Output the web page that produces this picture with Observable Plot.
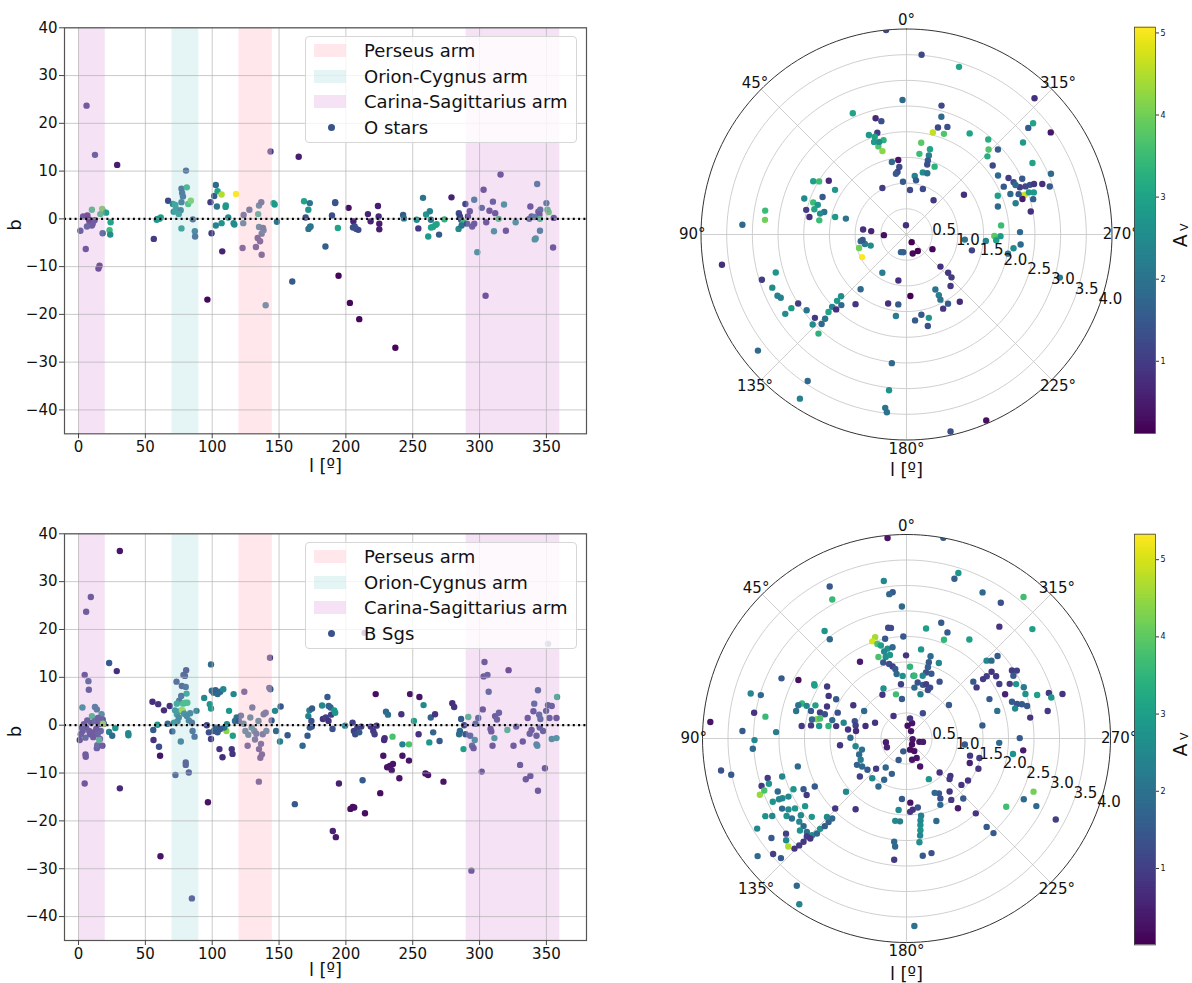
<!DOCTYPE html>
<html><head><meta charset="utf-8">
<script src="https://cdn.jsdelivr.net/npm/d3@7"></script>
<script src="https://cdn.jsdelivr.net/npm/@observablehq/plot@0.6"></script>
<style>
body{margin:0;background:#fff;font-family:"DejaVu Sans",sans-serif;}
#root{position:relative;width:1192px;height:983px;overflow:hidden;background:#fff;}
.panel{position:absolute;}
.panel svg{overflow:visible;max-width:none;}
.legend{position:absolute;border:1px solid #d6d6d6;border-radius:4px;background:rgba(255,255,255,0.8);font-family:"DejaVu Sans",sans-serif;font-size:18px;color:#111;box-sizing:border-box;}
.legend .row{position:absolute;left:0;height:0;}
.legend .sw{position:absolute;left:8px;top:-7px;width:32px;height:13px;}
.legend .dot{position:absolute;left:22px;top:-3.5px;width:7px;height:7px;border-radius:50%;background:#3b528b;}
.legend .tx{position:absolute;left:58px;top:-12px;white-space:nowrap;line-height:24px;}
</style></head>
<body><div id="root"></div>
<script>
// ---------- tick labels / categories ----------
const lTicks = [0,50,100,150,200,250,300,350];
const bTicks = [-40,-30,-20,-10,0,10,20,30,40];
const ringTicks = [0.5,1,1.5,2,2.5,3,3.5,4];
const angleTicks = [0,45,90,135,180,225,270,315];
const avTicks = [1,2,3,4,5];
const armNames = ["Perseus arm","Orion-Cygnus arm","Carina-Sagittarius arm"];
const armRanges = [[[120,145]],[[70,90]],[[0,20],[290,360]]];
const seriesNames = ["O stars","B Sgs"];
const avDomainO = [0.12,5.07];
const avDomainB = [0.01,5.33];

// ---------- O stars: [l, b, Av] ----------
const oStarsLB = [
[6,23.7,1],[12.3,13.4,1.2],[28.9,11.3,0.5],[1.4,-2.5,1.2],[5.4,-6.3,1],[14.9,-10.4,0.8],[15.7,-9.8,0.8],[18,-3,1.5],
[3.4,0.5,1],[6.6,0.7,0.8],[8.3,-0.7,1],[10.6,-1.0,1.2],[10,-1.4,1],[6.3,-1.6,1.3],[7.7,-0.1,0.6],[12,-0.3,1],[10,1.9,3.5],[17.7,2.1,4],[18.6,1.6,4],[16.3,1.0,3.5],[20.6,1.3,3],[24,-0.7,3],[23.2,-2.4,3.5],[23.7,-3.3,2.5],
[56.3,-4.2,1],[67,3.8,1.2],[59,0,2.8],[60.5,0,2.8],[61.5,0.3,2.9],[58.5,-0.2,2.7],
[71.2,1.5,2.5],[70.6,3.1,2.5],[72.4,2.9,2.7],[72.9,2.1,2.6],[77,6.3,1.5],[77.5,5.4,1.6],[78.1,4.7,1.7],[77,3.5,1.8],[76.4,1.8,2],[75,1.0,2.6],[77,-2,2.7],[81,6.6,3.2],[80.4,10.1,1.5],[82,3.1,3.5],[84,3.8,4],[85.5,-0.1,1.5],[87,-2.6,2],[87.2,-3.7,1.5],
[96.4,-16.9,0.2],[98.7,3.5,1],[99.5,-3,1],[101.5,4.8,1.5],[102.7,7.1,1.8],[104,5.8,3],[107,5.1,4.5],[103.5,2.6,2],[102.7,-1.4,2.3],[107,-0.9,2.7],[107.5,-6.8,0.6],[110,2.5,2.8],[110.2,2.8,2.8],[112,0.3,2.5],[116,-0.9,2.5],[116.6,-1.2,2.5],[117.8,5.2,5.1],
[122.7,-6.1,1],[123.5,0.8,1.5],[123.2,-0.9,2],[127.8,1.9,1.5],[132.7,-5.9,1],[134,-4.0,1],[135.8,-4.7,1],[137,-3.1,1.5],[137,-7.5,1],[135,2.8,2],[136.7,3.5,1.5],[138.4,-2.4,2],[135,-1.7,2],[134.4,1.0,3],[138,-1.9,1.5],[140,-18.1,2],[143.6,14.1,1],
[145.8,3.3,2.8],[146.7,3.0,2.8],[148.4,-0.6,2],[159.9,-13.1,1.5],[164.7,13,0.5],[168.7,3.7,3],[173,3.3,2],[171.9,1.9,2.7],[169.9,0.3,1.3],[172,-2.1,2],[173.1,-1.7,2],[173.6,-1.6,2],[184.7,-5.8,1.6],[189.6,0.7,1.3],[192,3.3,1.3],[192,3.5,1.4],[194,-1.9,3],[194.5,-11.9,0.2],
[202,2.3,0.3],[205.6,-0.5,0.6],[205.3,-1.8,1.3],[207.8,-2.1,1.4],[209.3,-2.3,1.2],[206.6,-1.6,1.3],[203,-17.6,0.2],[210,-21,0.2],[216.5,1.0,0.6],[218.5,-0.5,0.6],[224,2.7,0.5],[224.5,0.5,0.7],[225,-1,0.5],[225,-2.2,0.5],[237,-27,0.2],
[242.8,0.8,1.5],[243.4,0.1,2],[254.2,-2,0.9],[253,-0.2,2.5],[257.7,4.4,2],[260,0.9,2.7],[262.8,1.6,2.3],[261.6,-3.7,2.8],[263.7,-1.8,3],[265.1,-1.7,3],[267,-1.3,3],[267.9,-1.1,3],[269.7,-3.3,1.5],[273.7,-0.1,3.3],[263.6,-0.2,2],[279,4.5,0.6],
[284.5,1.2,1.2],[285.3,0.5,1],[286.2,-0.2,1.5],[284.3,-2.1,2.5],[288,-0.7,3.5],[286.6,-1.4,2],[289.4,3.1,1.2],[291.3,0.5,1],[290.7,-1.0,1.3],[292.7,1.6,1],[296,4,2],[294.5,-1.6,1.2],[296,-1.0,1],[298.3,-7,2.5],
[301.7,2.3,1.5],[303,6.1,1],[304.5,-16.1,0.8],[305,-0.7,1],[307.4,1.7,1],[310,3.6,1.2],[310.8,-2.6,2.5],[311.7,1.2,1],[315.7,9.3,1],[314.3,0,3.5],[318.3,3,2.5],[319.7,-2.5,1],[327,-0.7,2.5],
[338,2.6,1],[338.9,0.5,1.2],[342,-4.1,2.5],[341.3,-4.3,2.5],[343.1,7.3,1.8],[344,1.5,1.2],[345.4,1.9,1.5],[344.8,0.9,1],[345.2,-2.5,2],[350,3.3,1.8],[351.7,1.4,3.8],[350.8,1.9,3.5],[355,-6,1],[355.5,0.2,1],[337.2,0,1.5],[341,0.4,1.8],[345.2,0,3.3]
];

// ---------- O stars: [l, distance kpc, Av] ----------
const oStarsLD = [
[5.7,4.0,1.2],[355.2,3.51,1.2],[342.6,3.42,3],[1.7,2.62,1.8],[344.8,2.6,1.2],[343.5,2.39,1.8],[343.6,2.17,1.2],[339.2,2.24,1.3],[345.5,2.05,4.6],[339.6,2.09,3.7],[328,2.32,3],[319.3,2.44,3.2],[316,2.3,3.7],[314,2.19,3.2],[312.9,2.43,1.5],[308.7,2.15,1.2],[316.8,3.64,0.8],[305.3,3.44,0.4],[311.3,3.28,3],[311.2,3.15,1.5],[308.3,2.89,2.8],[299.6,2.82,3],[292.8,3.05,1.8],
[302.8,2.12,1.8],[299,2.27,1],[296.2,2.11,1.5],[296,2.32,1.3],[295.7,2.5,1.5],[292.6,2.39,1],[291.9,2.59,1.3],[291.6,2.67,0.9],[290.4,2.82,0.8],[288.5,2.94,1.5],[291.3,2.17,1.8],[286,2.21,2.2],[288.6,2.43,4.7],[287,2.36,0.5],[285.6,2.56,1.6],[288.3,2.61,2.8],[280.5,2.46,0.8],[294.4,2.33,1.8],[292,2.5,1.2],[289,2.52,2.8],[289.8,2.32,1.5],[293,1.93,2.9],[287,1.86,1.8],[275.5,1.85,3.5],[269,1.71,3.8],[269,1.83,2.8],[266.4,1.75,2.9],[271.2,2.21,1.8],[265,2.23,1.8],[262.7,2.1,2.5],[259.3,2.01,2],[265.4,1.55,2.3],[256.4,1.31,1.1],[265,1.14,2],[304.7,1.36,0.8],[254.3,3.1,2.2],
[350.9,1.81,3.8],[350.9,1.59,3.5],[344.6,1.72,3],[344.2,1.6,2.2],[343.9,1.5,1.5],[343.5,1.42,1.3],[337.5,1.43,3.3],[345.3,1.25,2.5],[341.3,1.26,2],[352,1.15,2.3],[350,1.07,1.5],[355.5,0.87,1.2],[340.2,0.94,1.2],[321.7,0.85,0.9],[3.2,0.18,0.8],
[6.3,1.46,0.4],[11.4,1.44,1.8],[6.1,1.32,1.3],[8.2,1.23,1.2],[9.9,1.2,1.5],[3.8,1.03,1.5],[27.4,1.02,1],
[14.9,2.34,0.7],[12.5,2.26,1.3],[16,2.06,1],[20.7,2.07,2.8],[18,2.0,3],[13.7,1.89,3.3],[19.3,1.91,2.8],[17.7,1.8,3.7],[16.1,1.69,4.2],[16.5,1.88,2.5],[23.9,2.58,3],
[60.3,2.09,2.9],[58.7,1.99,3.5],[55.3,1.84,0.7],[58,1.64,2.7],[65.9,1.79,1.5],[70.6,2.11,2.5],[71,1.92,3.5],[71.5,1.82,2.7],[74.7,1.86,3],[74.7,1.66,2],[76.4,1.73,2.5],[76.2,2.01,1],[79.8,1.92,0.8],[80.8,1.72,3.5],[76.2,1.43,2.8],[75.3,1.22,2],[80.4,2.79,3.5],[84.1,2.77,4],[86.6,3.2,1.8],[99.3,3.64,0.8],
[83.4,0.85,0.8],[84.5,0.69,0.6],[91.7,0.44,0.3],[98.3,0.9,1.8],[102.8,0.83,2.2],[107.2,0.73,2.5],[105.8,0.96,4],[117,0.97,5.1],[97,0.86,1.5],
[106.2,2.65,2.7],[107.4,2.95,1],[111.6,2.81,2.5],[115.4,2.78,2.3],[116.7,2.74,2.3],[122.5,2.5,1],[122.6,2.66,2.8],[123.2,2.82,2.5],[127.2,2.44,2],[132.3,2.41,0.9],[133.8,2.53,2.5],[138.4,2.58,3.3],
[133.3,1.75,2.5],[133.7,1.87,2.8],[134.2,2.02,2.3],[134.8,2.14,3],[136,2.28,2],[136.5,2.4,1.8],[136.8,2.0,0.8],[137.3,1.87,1.8],[143.8,1.68,0.9],[128,3.67,1.8],[146,3.44,1.8],[147,3.81,2.3],
[140,1.39,1.8],[147.7,0.88,2.2],[170,0.91,0.8],[162.7,0.36,1.7],[169.6,0.35,1.6],[198,0.39,0.2],[214.4,0.39,0.1],[214,0.18,0.1],[240.6,0.58,0.2],[183.6,1.2,0.1],[165.1,1.39,0.8],[173.3,1.37,1.5],[172.6,1.6,2.2],[185.7,1.68,1.5],[190.5,1.59,1.5],[193.1,1.83,1.3],[195,1.68,2.7],[173.5,2.52,1.8],[173.6,3.05,2.6],[173,3.4,2],[173.7,3.48,2],[203.2,3.94,0.3],[192.6,3.93,1.3],
[226.6,0.91,0.8],[227.5,1.1,0.9],[226.4,1.21,1],[220.5,1.32,0.9],[207.7,1.21,2],[208,1.34,2.2],[207.5,1.43,2],[211,1.57,1.5],[206.3,1.61,0.9],[218.4,1.67,0.7]
];

// ---------- B supergiants: [l, b, Av] ----------
const bSgsLB = [
[30.9,36.4,0.3],[9.2,26.8,1],[5.7,23.7,1],[22.9,13,1.5],[28.6,11.3,0.7],[4.6,10.5,1],[7.4,9.2,1.5],[7.7,7.4,1.2],[2.9,3.7,2.5],[12.3,3.8,2],[13.7,3.3,2],[17.2,2.3,2.5],[10,1.9,3.5],[0.9,-3.1,1],[1.7,-1.9,1.2],
[3.1,-1.2,1],[5.7,-0.5,1],[8,-1.2,1.2],[8.6,-1.9,1],[10.9,-1.5,1],[5.2,-2.6,1.5],[9.5,0.5,1],[12.3,0.9,1.5],[15.2,0.2,1],[16.6,-1.2,1.3],[18.9,0.3,1.5],[18,1.2,1.2],[13.2,-0.8,1],[14.3,-1.9,1.3],[16,-2.9,1.2],[4,0.2,1],[6.5,1.0,1.2],[11,-2.5,1],[14.5,1.5,1.2],[2.5,-0.5,1.2],
[5.2,-6.1,1],[5.4,-6.6,1],[13.7,-4.8,1.2],[14,-4.2,1.5],[17.8,-4.3,1],[4.6,-12.2,0.9],[15.5,-3.1,3.5],[18.3,0.3,4.3],[22.9,-1.4,2.5],[25.2,-2.2,1.8],[27.5,-0.6,2.8],[30.9,-13.2,0.6],[37.2,-1.7,2.5],[37.3,-2.1,2.5],
[55.3,4.9,0.7],[55.9,-1,1.5],[56.1,-3.1,0.8],[59.6,4.4,0.8],[59,0.1,2.8],[60.2,-4.5,1.3],[61,-6.4,0.3],[61.3,-27.4,0.3],[63.9,3.1,0.7],[68.2,4,0.8],[66.7,0.3,1.8],[70.2,-1.3,1.5],
[73.3,9.1,1.2],[72.5,-10.4,1.2],[77.3,8.2,1.2],[79.6,10.3,1],[78.5,10.5,1.2],[80.5,11.5,1],[80.2,8,1.5],[80.8,6.6,3],[75.3,5.1,1.5],[76.8,6.1,1.5],[78.2,4.5,3.5],[79.6,4.7,3.5],[81.4,4.7,3.5],[72.2,3.1,2.5],[73.6,2.3,2.5],[75,1.6,2],[76.4,3,2.5],[77.8,3,2.5],[77.3,3.2,4.5],[79,2.4,2.2],[81,1.9,2],[82.5,1.0,2],[84.8,0.5,1.5],[85.3,-1.2,1.5],[86.8,-2.4,1.5],[88.2,3,2],[80.2,-8.3,1],[80.2,-7.8,1],[82.5,-9.9,1],[84.8,-36.2,1],[76.5,-3.4,2],[74,0.8,2],[71.5,0.5,2.5],[83.5,2.5,2],[73.5,4.5,3],
[94,5.7,2.5],[96.8,-16.1,0.3],[99.1,12.7,1.8],[98.2,4.4,2.8],[99.1,3.5,2.8],[99.7,7.2,1.8],[101.1,6.8,1.8],[102.5,7.3,1.6],[104,6.5,1.8],[106,7,1.8],[108.3,7.5,2.5],[99.1,-2.9,1],[101.1,-1.2,1.5],[102.5,-0.5,1.7],[104,-1.5,1.5],[105.4,-5,0.8],[107.7,-6.7,0.7],[110.6,-1.2,4.4],[112.6,3,2.8],[114.6,-5,0.8],[115.2,-6,0.8],[115.4,-2.2,3],[116,6.5,2.5],[117,0.9,2],[118.3,1.6,2],[96,0,1],[97.5,-1.5,1.3],[109,-0.5,2],[111,0.2,2.5],[106,-0.8,1.5],
[120,0.9,1.5],[121.5,2,1.5],[123.5,0.3,2],[124.8,-1.2,2],[126.5,-4.3,1],[128.5,1.6,2],[130,3.7,1.5],[131.5,-1.2,2],[133,-1.8,1.5],[134.6,0.9,2],[135,-5,1],[136,-6.8,1],[136.5,-3.9,1.2],[137.2,-6.1,1],[137.8,-1.9,1.5],[138.5,2.3,1.5],[140,2.6,1.5],[140.5,-1.2,2],[134.9,-11.8,1],[143.2,14.1,1],[143.5,7.5,1.5],[142.7,7.8,1.5],[144.4,1,1.5],[124,7,1],[129.5,-0.5,2.2],[132,-3,1.5],[127,-2,2],
[147,3,2.5],[147.8,-1.2,1.8],[151.2,3.9,1.5],[150.7,-3.4,2.3],[156.4,-2.1,1.5],[161.8,-16.5,1.5],[167.6,-4.3,1.8],[171.3,-2.2,1.5],[171.9,1.9,2.3],[172.7,3.1,2.3],[174.7,3.5,1.5],[174.2,0.9,1.3],[174.5,-0.3,1.5],[173,-0.5,1.5],[182.2,4.1,2.5],[182.8,1.3,0.8],[186.2,5.9,1.5],[187.1,4,1.7],[188.5,3.7,1.7],[185,1.6,1],[187,0.9,0.8],[189,2.2,1],[190,-0.8,1.3],[190.2,-22.1,0.5],[192.5,-23.4,0.4],[191.3,3.1,2.8],[192,2.6,2.8],[194.8,-12.2,0.5],[199.4,-0.1,2.3],
[203.4,-17.5,0.2],[205.1,-17.1,0.2],[206.2,-17.2,0.2],[205,0.5,1],[206,-1.2,1],[207,-1.9,1.2],[208.6,-0.5,1],[210,-1.5,1.5],[211.5,-0.3,1],[212.5,-11.5,1.5],[214.3,-18.4,0.2],[214,19.3,0.5],[218.6,-0.3,0.8],[220.5,-1.2,0.9],[221.5,-1.9,1],[223,-0.1,0.8],[222.3,6.5,0.2],[225.7,-14.2,0.2],[228,-6.4,0.3],[228.6,-3.1,0.6],[229,-2.7,0.7],[230,2.8,1.8],[231.5,2.2,2],[230.9,-8.8,0.3],[232.9,-8.5,0.3],[234.3,-9.4,0.4],[234.9,-2.4,3.8],[235.2,-8.1,0.3],[240,-11.1,0.3],[241.5,2.3,0.8],[242.3,-4,2.3],[242.3,-6.4,0.3],[247.2,-4,3.8],[248,6.5,0.3],[247.2,-7.4,0.3],[250.9,0.9,3],[254.4,-1.9,0.8],[255,5.9,0.3],[258.1,4.2,2.5],[259.5,-10.1,0.3],[261.5,-10.4,0.3],[262.4,-3.6,2.8],[263.5,1.6,1.7],[265.3,-1.5,1.7],[266.7,2.3,0.8],[270.1,-3.3,1.5],[273,-11.8,0.3],[279.6,4.6,0.7],[281,3.8,0.8],
[284.7,-1.9,2],[285.3,-1.2,1.8],[286.2,1.3,1.5],[288,-5,3],[288.5,0,1.2],[291.6,1.7,3.5],[289.5,-1.9,1.5],[293,-2.2,1.5],[294.4,-4.3,1.5],[296.4,-3.1,2.5],[293.9,-30.4,1],[295.5,-4.8,1],[297,0.3,1.5],[299,1.5,1.5],
[301.6,-9.7,1],[302.4,3.3,1],[303.7,13.2,1],[303,10.2,1],[305.9,10.5,1.2],[306.8,7,1.5],[308.2,-0.8,1],[308.8,-1.3,1],[309.7,-4.3,1],[311.1,-2.7,2.8],[311.6,1.9,1],[313,1.2,1.2],[314.5,2.6,1.2],[320.8,-1,3.5],[321.7,11.5,0.7],[325.4,-4.3,1],[327.4,-0.3,1.2],[330.3,-8.3,1],[332.3,-3.4,1],[334.6,-11.3,1],[338,-10.6,1],[338.9,-1,1],[337.5,-1.8,1.2],[340.3,2.9,1],[340.9,4.5,1.5],[342.6,-2.2,1.2],[343.2,-4.3,2.5],[342.6,-4,2.3],[343.7,7.3,1.5],[343.7,-13.7,1],[344.6,2.2,1.5],[345.5,1.3,1.5],[347.5,-1.2,1.2],[348.9,-9,1],[349.8,3,1.2],[351.2,4.2,1.2],[351.2,17,1.5],[352.3,1.5,1.2],[354,-2.9,2.5],[357.5,-2.7,2.7],[358,5.9,3.3],[357.5,1.5,1],[354,4,1.2],[336,1.5,1],[345,-0.5,1.3]
];

// ---------- B supergiants: [l, distance kpc, Av] ----------
const bSgsLD = [
[5.4,3.95,0.3],[349.6,4.0,1.5],[342.6,3.4,2.8],[343.3,3.27,1.6],[8.2,3.12,2.5],[5.4,2.88,1.5],[6.8,2.85,1.8],[26.8,3.34,1.5],[28.1,3.09,3.6],[332.5,3.23,1.8],[325.2,3.24,1.3],[320.4,3.6,3.7],[311,3.27,3],[320.3,2.85,0.8],[2,2.59,1.8],[343.3,2.37,1.5],[338.9,2.23,1.5],[349.9,2.19,3],[339.2,2.07,3.5],[327.6,2.3,3],[37.3,2.65,2.8],[37.7,2.46,1.8],[9.4,2.2,1.2],[8,2.19,1.2],[1.8,2.0,1.5],
[17.2,2.08,4.6],[19.4,2.02,5],[17.1,1.94,3.8],[15.4,1.89,3],[12.1,2.0,1.5],[11.9,1.8,2.7],[8.7,1.81,1.8],[14.4,1.76,2.5],[19,1.69,3.8],[14.3,1.65,2.6],[11.2,1.67,2.8],[17,1.56,1.5],[13.1,1.5,1.3],[10.9,1.44,1],[9.2,1.38,1.5],[8.7,1.28,1.8],[3.5,1.23,2.7],[5.8,1.07,1],[357.2,1.41,3.5],[353.7,1.24,3],[0.3,1.63,0.8],[31.2,1.76,0.4],[24.7,1.08,2.7],[13.4,0.89,3.7],[6.6,0.78,1.5],[28.8,0.98,0.8],[29.9,0.51,0.8],
[350.7,1.77,2.8],[343.7,1.68,1.8],[336.8,1.61,2.5],[343.7,1.56,1.5],[343.3,1.46,1.6],[343.5,1.35,1.3],[339,1.36,1.5],[345.5,1.27,2.5],[352.8,1.24,3.6],[348.7,1.12,1.3],[343,1.1,1.5],[340.1,1.13,1],[335.1,1.1,1.2],[329.8,1.29,1.3],[351.2,1.01,1.8],[342.5,0.91,2.3],[336.2,1.04,1.2],[327.1,0.59,1.2],[308.3,1.06,1.5],
[314.2,2.19,2.5],[312.5,2.26,1.8],[312.2,2.41,1.5],[308.1,2.12,0.8],[304.8,2.14,0.9],[307.8,1.99,1],[307.8,1.9,0.9],[310.4,1.72,1.5],[306.1,1.7,0.9],[295.4,1.8,1.5],[286.9,1.86,2],[300.4,2.11,1],[294.2,2.12,0.5],[297.9,2.29,0.9],[302.8,2.46,0.9],[301.6,2.54,1],[300.4,2.43,1.5],[296.4,2.4,2.8],[293.6,2.51,2.2],[290.5,2.49,2.7],[285.1,2.45,1.5],[286.5,2.36,1.5],[287.3,2.27,1.3],[289.2,2.19,1.5],[285.4,2.21,2.5],[279.6,2.46,0.8],[288.4,2.7,3],[287.7,2.93,0.9],[285.9,3.18,0.8],[281,2.82,0.9],[285.8,2.95,2.8],
[279.8,1.51,1.5],[264.1,1.15,1.5],[267.3,1.82,1.8],[270.2,2.22,1.5],[261.7,2.11,2.7],[264.2,2.3,0.4],[254.9,1.29,0.9],[255,1.48,1],[248.8,1.33,0.5],[247.2,1.53,0.8],[235.7,1.46,0.8],[229.8,1.41,0.8],[229.6,1.13,0.8],[226.7,1.16,0.9],[224.3,0.93,0.8],[219.1,1.34,0.8],[216.1,1.49,0.9],[223.4,1.62,1.5],[216.4,1.7,0.4],[222.8,2.0,0.8],[210.6,1.25,1.5],[209.5,1.35,1.3],[207,1.46,1.8],[207.4,1.2,1.8],[208.8,0.91,2.8],[222.2,2.34,1.5],[222.6,2.52,1.5],[235.6,2.37,3.7],[242.6,2.59,1.8],[247.3,2.7,4.2],[242.5,2.87,1.8],[241.5,3.33,1],
[339.9,0.32,0.3],[328.5,0.17,0.3],[264,0.12,0.3],[222.5,0.16,0.2],[197.7,0.23,0.2],[211.7,0.29,0.2],[255.4,0.26,0.3],[258.4,0.33,0.4],[166,0.26,1.5],[194.7,0.43,0.3],[207.7,0.43,0.3],[206,0.61,0.3],[100.1,0.41,0.4],[114,0.42,0.5],[350,0.4,0.8],[355,0.25,0.2],[160,0.45,1.5],
[61.6,2.41,0.2],[64.3,2.72,1.5],[60.1,2.08,3],[59.5,2.1,3],[56.8,1.86,0.9],[61.3,1.74,0.8],[60.8,1.58,1.5],[71.5,2.16,3.5],[72.9,2.22,2],[76,2.23,2],[71.9,2.06,2.5],[70,1.9,3],[73.9,1.95,1.5],[73.3,1.77,1],[73.5,1.67,1.3],[77.9,1.8,4.3],[77,1.74,3.8],[78.6,1.89,1.8],[83.2,2.07,0.9],[82.2,1.89,0.9],[81.9,1.73,2.8],[80.9,1.55,3.5],[76.1,1.5,1.8],[80,1.4,0.8],[75.9,1.27,2.5],[69.4,1.44,1.3],[68.1,1.68,0.8],[73.9,3.18,2.5],[73.4,2.98,1.8],[80.4,3.03,0.8],[81.2,2.8,3.6],[87.4,3.22,1.5],[85.2,3.86,0.3],[87.2,2.56,2.2],[90.6,2.98,2.5],[93.8,3.02,1.8],[81.2,1.16,0.8],[71.4,1.07,1.3],[75.6,1.03,1],[81.6,1.0,0.7],[73.1,0.84,0.7],[57,0.99,1.8],[58,1.23,0.8],[63.3,0.69,0.8],[95.8,1.31,0.8],[89.3,1.1,1.8],
[98.6,1.01,2.5],[108.7,0.98,1.8],[114.8,0.99,2.2],[122.3,1.03,1.8],[128.6,0.98,1.5],[134.8,0.84,0.9],[144.4,0.7,1.8],[157.5,0.75,1.6],[151.6,0.92,1.7],[139.3,1.03,2.5],[149.7,1.09,1.8],[129.2,1.18,1],[131.4,1.58,2.5],[144.3,1.71,0.8],[104,0.9,2],[118,1.1,1.6],
[105.9,2.83,0.9],[108.1,2.99,0.9],[111,3.08,4.5],[110.1,2.97,3.8],[108.2,2.84,2.8],[115.3,2.9,2.7],[112.4,2.73,1.8],[107,2.55,2.5],[115.5,2.77,2.5],[115.7,2.7,2.5],[116.2,2.58,2.5],[114.2,2.43,2.8],[116.2,2.25,1.5],[119.5,2.25,0.9],[117.6,2.03,1.5],[104.4,2.2,1.8],[119.4,2.8,1.8],[121,2.7,2.6],[122.1,2.58,2.8],[123.7,2.39,2.8],[126,2.56,2.5],[122.9,2.8,2.7],[124.9,2.74,2],[127.8,2.66,2.5],[130.4,2.65,1.8],[130.8,2.76,2.7],[133.2,2.68,2],[135.7,2.65,2.5],[136.7,2.56,1.8],[136.3,2.45,2.7],[137,2.35,1.5],[137,2.24,1.6],[137.1,2.14,1.8],[134.6,2.19,2.5],[134.5,1.96,0.9],[129.6,2.41,2.8],[134.5,2.74,0.9],[136.1,2.72,0.8],[135.1,2.86,0.9],[134.9,2.97,0.9],[134.5,3.08,0.8],[132.4,3.14,4.7],[128.3,3.01,1],[130.2,3.09,2.5],[126.4,3.29,1.5],[120,3.04,2.5],[118.8,3.16,2.7],[121.1,3.42,2.5],[128.3,3.72,1.8],[130.9,3.46,1],[133.6,3.4,1.5],[143.3,3.6,1.8],[147.1,3.87,2.4],[99.8,3.69,1.3],[101.7,3.51,1.5],
[175.7,1.19,1.5],[183.4,1.26,0.3],[173.7,1.41,2.5],[182.8,1.44,0.8],[185,1.4,0.8],[189.3,1.37,1.3],[190.7,1.54,2.3],[189.7,1.63,2.5],[189.1,1.72,2.6],[188.6,1.82,2.7],[188,1.92,2.5],[187.1,2.05,2.6],[172.2,1.63,2.5],[175.5,1.63,2.3],[199.9,1.72,1.8],[173.2,2.04,1.8],[174,2.13,1.8],[174.2,2.39,0.9],[187.9,2.32,1.5],[192.3,2.3,1.3],[182.4,3.68,2]
];

// ---------- styling (kept out of the data) ----------
const FONT = "DejaVu Sans";
const armFill = ["pink","#a0d6d6","plum"];
const armOpacity = [0.38,0.28,0.3];
const root = document.getElementById("root");
const minus = d => d < 0 ? "\u2212" + Math.abs(d) : String(d);
const rad = a => a * Math.PI / 180;

function place(node, left, top) {
  const div = document.createElement("div");
  div.className = "panel";
  div.style.left = left + "px";
  div.style.top = top + "px";
  div.appendChild(node);
  root.appendChild(div);
  return node;
}

function scatterPanel(data, avDomain, height, mTop, mBottom, labelDy) {
  const bands = [];
  armRanges.forEach((rs, i) => rs.forEach(r => bands.push({x1: r[0], x2: r[1], k: i})));
  return Plot.plot({
    width: 600, height,
    marginLeft: 64, marginRight: 14, marginTop: mTop, marginBottom: mBottom,
    style: {fontFamily: FONT, background: "transparent", color: "#111"},
    x: {domain: [-10.5, 380]},
    y: {domain: [-45, 40]},
    color: {type: "linear", scheme: "viridis", domain: avDomain},
    marks: [
      Plot.dot(data, {x: d => d[0], y: d => d[1], fill: d => d[2], r: 3.2}),
      Plot.rect(bands, {x1: "x1", x2: "x2", fill: d => armFill[d.k], fillOpacity: d => armOpacity[d.k]}),
      Plot.gridX(lTicks, {stroke: "#b0b0b0", strokeOpacity: 0.75, strokeWidth: 0.9}),
      Plot.gridY(bTicks, {stroke: "#b0b0b0", strokeOpacity: 0.75, strokeWidth: 0.9}),
      Plot.ruleY([0], {stroke: "#000", strokeWidth: 2.3, strokeDasharray: "2,3.3"}),
      Plot.frame({stroke: "#555", strokeWidth: 1.2}),
      Plot.axisX(lTicks, {tickSize: 5, tickPadding: 3, fontSize: 15, label: null, stroke: "#444"}),
      Plot.axisY(bTicks, {tickSize: 5, tickPadding: 2, fontSize: 15, label: null, stroke: "#444", tickFormat: minus}),
      Plot.text(["l [\u00ba]"], {frameAnchor: "bottom", dy: labelDy, fontSize: 18, lineAnchor: "middle"}),
      Plot.text(["b"], {frameAnchor: "left", dx: -49, rotate: -90, fontSize: 18, lineAnchor: "middle"})
    ]
  });
}

function polarPanel(data, avDomain, height, mLeft, mRight, mTop, mBottom, labelDy, clipId) {
  const R = 4, RL = 4.17;
  const ringPts = [];
  ringTicks.forEach(r => d3.range(0, 361, 2).forEach(a => ringPts.push({r, a})));
  const inner = ringPts.filter(p => p.r < R);
  const outer = ringPts.filter(p => p.r === R);
  const px = p => -p.r * Math.sin(rad(p.a));
  const py = p => p.r * Math.cos(rad(p.a));
  const s22 = Math.sin(rad(22.5)), c22 = Math.cos(rad(22.5));
  const svg = Plot.plot({
    width: 440, height,
    marginLeft: mLeft, marginRight: mRight, marginTop: mTop, marginBottom: mBottom,
    style: {fontFamily: FONT, background: "transparent", color: "#111"},
    x: {domain: [-R, R], axis: null},
    y: {domain: [-R, R], axis: null},
    color: {type: "linear", scheme: "viridis", domain: avDomain},
    marks: [
      Plot.line(inner, {x: px, y: py, z: "r", stroke: "#c9c9c9", strokeWidth: 0.9}),
      Plot.link(angleTicks, {x1: 0, y1: 0, x2: a => -R * Math.sin(rad(a)), y2: a => R * Math.cos(rad(a)), stroke: "#c9c9c9", strokeWidth: 0.9}),
      Plot.dot(data, {x: d => -d[1] * Math.sin(rad(d[0])), y: d => d[1] * Math.cos(rad(d[0])), fill: d => d[2], r: 3.2}),
      Plot.line(outer, {x: px, y: py, stroke: "#333", strokeWidth: 1}),
      Plot.text(angleTicks, {x: a => -RL * Math.sin(rad(a)), y: a => RL * Math.cos(rad(a)), text: a => a + "\u00b0", fontSize: 15, lineAnchor: "middle"}),
      Plot.text(ringTicks, {x: r => r * c22, y: r => -r * s22, dx: 14, dy: -14, text: r => r.toFixed(1), fontSize: 15, lineAnchor: "middle"}),
      Plot.text(["l [\u00ba]"], {frameAnchor: "bottom", dy: labelDy, fontSize: 18, lineAnchor: "middle"})
    ]
  });
  const w = 440 - mLeft - mRight;
  const cx = mLeft + w / 2, cy = mTop + (height - mTop - mBottom) / 2;
  const s = d3.select(svg);
  s.insert("defs", ":first-child").append("clipPath").attr("id", clipId)
    .append("circle").attr("cx", cx).attr("cy", cy).attr("r", w / 2);
  s.selectAll('g[aria-label="dot"]').attr("clip-path", `url(#${clipId})`);
  return svg;
}

function colorbar(domain, height, mTop, mBottom) {
  const n = 240, step = (domain[1] - domain[0]) / n;
  const steps = d3.range(n).map(i => domain[0] + i * step);
  return Plot.plot({
    width: 72, height,
    marginLeft: 14, marginRight: 37, marginTop: mTop, marginBottom: mBottom,
    style: {fontFamily: FONT, background: "transparent", color: "#111"},
    x: {domain: [0, 1], axis: null},
    y: {domain},
    color: {type: "linear", scheme: "viridis", domain},
    marks: [
      Plot.rect(steps, {x1: 0, x2: 1, y1: d => d, y2: d => Math.min(domain[1], d + step * 1.6), fill: d => d + step / 2}),
      Plot.frame({stroke: "#444", strokeWidth: 0.8}),
      Plot.axisY(avTicks, {anchor: "right", tickSize: 3, tickPadding: 2, fontSize: 8, label: null, stroke: "#333", tickFormat: d => String(d)}),
      Plot.text(["A"], {frameAnchor: "right", dx: 25, dy: 4, rotate: -90, fontSize: 19, lineAnchor: "middle"}),
      Plot.text(["V"], {frameAnchor: "right", dx: 29, dy: -7, rotate: -90, fontSize: 11, lineAnchor: "middle"})
    ]
  });
}

function legend(left, top, seriesName) {
  const box = document.createElement("div");
  box.className = "legend";
  box.style.left = left + "px"; box.style.top = top + "px";
  box.style.width = "272px"; box.style.height = "107px";
  armNames.forEach((name, i) => {
    const row = document.createElement("div");
    row.className = "row"; row.style.top = (14 + i * 25.6) + "px";
    const sw = document.createElement("div");
    sw.className = "sw"; sw.style.background = armFill[i]; sw.style.opacity = armOpacity[i];
    const tx = document.createElement("div");
    tx.className = "tx"; tx.textContent = name;
    row.appendChild(sw); row.appendChild(tx); box.appendChild(row);
  });
  const row = document.createElement("div");
  row.className = "row"; row.style.top = (14 + 3 * 25.6) + "px";
  const dot = document.createElement("div"); dot.className = "dot";
  const tx = document.createElement("div"); tx.className = "tx"; tx.textContent = seriesName;
  row.appendChild(dot); row.appendChild(tx); box.appendChild(row);
  root.appendChild(box);
}

// top row: O stars
place(scatterPanel(oStarsLB, avDomainO, 480, 27.3, 46.7, 32), 0, 0);
legend(305, 36, seriesNames[0]);
place(polarPanel(oStarsLD, avDomainO, 480, 10.5, 18.5, 28.5, 40.5, 30, "clipO"), 690, 0);
place(colorbar(avDomainO, 480, 26.7, 47), 1120, 0);

// bottom row: B supergiants
place(scatterPanel(bSgsLB, avDomainB, 483, 33.3, 43, 30), 0, 500);
legend(305, 542, seriesNames[1]);
place(polarPanel(bSgsLD, avDomainB, 483, 12, 20, 34, 41, 32, "clipB"), 690, 500);
place(colorbar(avDomainB, 483, 33.7, 38.6), 1120, 500);
</script>
</body></html>
